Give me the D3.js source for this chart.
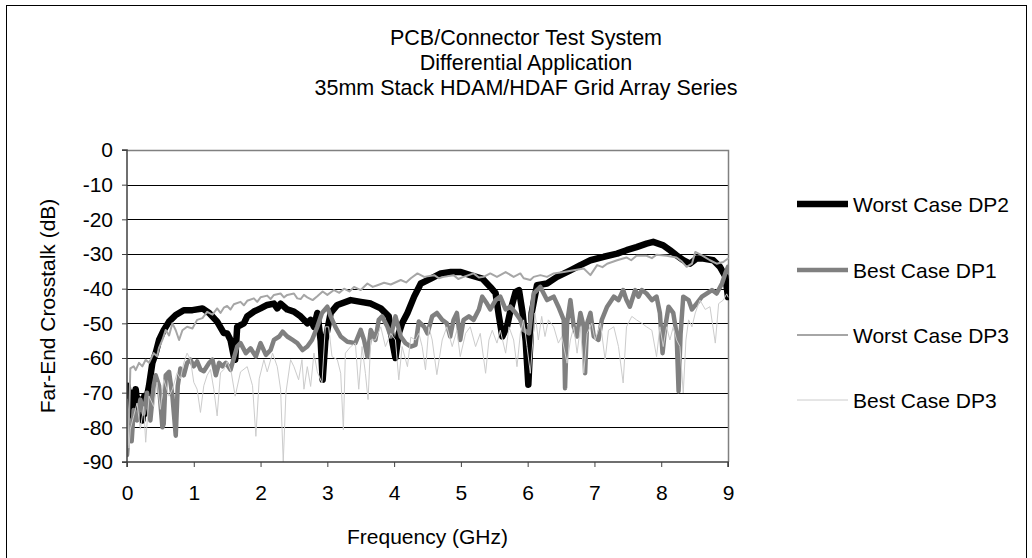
<!DOCTYPE html>
<html><head><meta charset="utf-8">
<script src="https://cdn.jsdelivr.net/npm/d3@7"></script>
<style>
html,body{margin:0;padding:0;background:#fff;}
svg{display:block;font-family:"Liberation Sans",Arial,sans-serif;}
</style></head>
<body>
<svg id="chart" width="1032" height="558"></svg>
<script>
const titleLines = ["PCB/Connector Test System","Differential Application","35mm Stack HDAM/HDAF Grid Array Series"];
const xTicks = [0,1,2,3,4,5,6,7,8,9];
const yTicks = [0,-10,-20,-30,-40,-50,-60,-70,-80,-90];
const seriesNames = ["Worst Case DP2","Best Case DP1","Worst Case DP3","Best Case DP3"];

const worstDP2 = [[0,-82],[0.01,-68],[0.05,-75],[0.08,-70],[0.1,-77],[0.13,-69],[0.16,-74],[0.2,-72],[0.23,-78],[0.26,-71],[0.28,-76],[0.31,-70],[0.33,-68],[0.38,-61.4],[0.43,-58.6],[0.48,-54.8],[0.55,-52],[0.63,-49.5],[0.73,-47.6],[0.85,-46.2],[0.98,-46.2],[1.13,-45.7],[1.23,-47],[1.35,-49.5],[1.45,-52.8],[1.5,-52.9],[1.55,-54.8],[1.6,-59.6],[1.62,-60.5],[1.65,-51],[1.7,-50.5],[1.75,-50],[1.8,-48],[1.9,-46.6],[2.0,-45.7],[2.1,-44.7],[2.2,-44.3],[2.25,-45.7],[2.3,-44.3],[2.4,-46],[2.5,-46.6],[2.6,-48],[2.7,-50],[2.75,-49],[2.8,-51],[2.85,-47],[2.9,-55],[2.93,-66.3],[2.97,-55],[3.05,-47],[3.15,-44.7],[3.35,-43.3],[3.5,-43.8],[3.65,-44.3],[3.8,-45.7],[3.92,-48],[3.97,-55],[4.02,-60],[4.07,-52.9],[4.12,-50],[4.2,-47],[4.3,-42.3],[4.4,-38.5],[4.55,-37.1],[4.7,-35.6],[4.85,-35.2],[5.0,-35.2],[5.14,-36.1],[5.32,-37.1],[5.44,-39.5],[5.52,-41.3],[5.57,-48],[5.62,-53.8],[5.69,-51],[5.74,-46.5],[5.82,-40.9],[5.87,-40.4],[5.92,-46.5],[5.97,-55],[6.01,-67.7],[6.06,-47],[6.14,-39],[6.29,-38.5],[6.44,-36.6],[6.64,-34.7],[6.79,-33.2],[6.94,-31.8],[7.14,-30.8],[7.34,-29.9],[7.48,-28.9],[7.63,-28],[7.78,-27],[7.88,-26.5],[8.03,-27.5],[8.13,-28.9],[8.23,-30.4],[8.33,-31.8],[8.43,-32.8],[8.53,-31.3],[8.63,-31.3],[8.78,-31.8],[8.88,-33.7],[8.96,-36.5],[9.0,-42.4]];

const bestDP1 = [[0,-88],[0.03,-80],[0.07,-84],[0.1,-75],[0.15,-78],[0.2,-72],[0.25,-76],[0.3,-70],[0.35,-78],[0.4,-68],[0.43,-65],[0.48,-68],[0.53,-80],[0.55,-79],[0.58,-65],[0.63,-64],[0.68,-71],[0.73,-82.4],[0.76,-68],[0.8,-63],[0.85,-65],[0.9,-61.4],[0.95,-60.5],[1.0,-62.4],[1.05,-61],[1.1,-63.3],[1.15,-63.8],[1.23,-61.4],[1.28,-60.5],[1.33,-65],[1.38,-61.4],[1.43,-62.4],[1.48,-61.4],[1.55,-63.4],[1.65,-56.7],[1.7,-55.7],[1.78,-58.6],[1.85,-57.2],[1.93,-59.6],[2.0,-55.7],[2.08,-59.1],[2.15,-57.7],[2.2,-54.8],[2.28,-53.8],[2.33,-52.4],[2.4,-53.8],[2.48,-54.8],[2.55,-55.7],[2.63,-57.7],[2.7,-56.7],[2.77,-54.8],[2.85,-51],[2.92,-47],[3.0,-45.2],[3.05,-48],[3.12,-51],[3.2,-53.8],[3.3,-55.3],[3.42,-55.7],[3.5,-51.9],[3.55,-54.8],[3.6,-59.6],[3.65,-51.9],[3.72,-54.8],[3.77,-49],[3.82,-48],[3.9,-51],[3.95,-53.8],[4.02,-48],[4.1,-53.8],[4.17,-55.7],[4.25,-56.7],[4.32,-56.2],[4.37,-49.5],[4.45,-51],[4.5,-52.9],[4.57,-48],[4.64,-47],[4.72,-49],[4.79,-50],[4.84,-53.8],[4.89,-49],[4.94,-47],[4.99,-54.8],[5.04,-49],[5.12,-48],[5.19,-49],[5.27,-46],[5.32,-42.3],[5.39,-44.3],[5.44,-46],[5.52,-43.3],[5.59,-42.3],[5.67,-46],[5.74,-45.2],[5.82,-47],[5.89,-49],[5.94,-51.9],[6.02,-52.9],[6.09,-41.4],[6.19,-39.5],[6.29,-43.3],[6.39,-42.3],[6.46,-45.2],[6.54,-49],[6.56,-68.7],[6.59,-50],[6.64,-43.3],[6.69,-51],[6.74,-53.8],[6.79,-47],[6.84,-51],[6.86,-64.4],[6.89,-50],[6.94,-47],[6.99,-53.8],[7.06,-54.8],[7.11,-49],[7.19,-45.2],[7.29,-42.3],[7.36,-43.3],[7.43,-40.4],[7.48,-43.3],[7.53,-45.2],[7.61,-40.4],[7.66,-42.3],[7.71,-40.4],[7.78,-41.4],[7.86,-43.3],[7.93,-42.3],[7.98,-47],[8.02,-58.6],[8.06,-51],[8.11,-45.2],[8.18,-47],[8.23,-53],[8.26,-69.6],[8.29,-53],[8.33,-42.3],[8.41,-43.3],[8.46,-46],[8.53,-44.3],[8.61,-42.3],[8.68,-41.4],[8.76,-40.4],[8.83,-41.4],[8.91,-38.5],[8.96,-35.6],[9.0,-33.7]];

const worstDP3 = [[0,-72],[0.02,-85],[0.05,-63],[0.1,-62.4],[0.13,-63.5],[0.18,-61.4],[0.23,-62.4],[0.28,-60.5],[0.33,-61.4],[0.4,-58.6],[0.45,-59.5],[0.48,-57],[0.53,-54.8],[0.58,-51.9],[0.63,-53.5],[0.68,-50],[0.73,-52],[0.78,-54.8],[0.83,-52],[0.9,-51],[0.98,-51.5],[1.05,-49],[1.13,-48.5],[1.2,-46.7],[1.28,-47.5],[1.35,-45.7],[1.4,-47],[1.45,-45.5],[1.5,-45],[1.55,-46],[1.6,-44.5],[1.7,-43.8],[1.75,-44.8],[1.8,-43.5],[1.9,-42.8],[1.95,-43.8],[2.0,-42.5],[2.1,-42],[2.15,-43],[2.2,-41.8],[2.3,-41.4],[2.35,-42.5],[2.4,-41.8],[2.5,-41.4],[2.55,-42.8],[2.6,-43],[2.65,-41.8],[2.7,-42.5],[2.78,-43.3],[2.85,-42.2],[2.93,-40.8],[3.0,-41.8],[3.1,-40.4],[3.18,-41.2],[3.25,-40],[3.33,-40.8],[3.4,-39.5],[3.5,-40.4],[3.6,-38.5],[3.68,-39.5],[3.75,-39],[3.85,-38.3],[3.95,-38.8],[4.1,-37.5],[4.18,-38.2],[4.25,-37],[4.35,-35.6],[4.45,-36.6],[4.6,-36.1],[4.67,-37],[4.74,-36.6],[4.89,-36.1],[4.96,-37.2],[5.04,-36.6],[5.19,-35.6],[5.27,-36.8],[5.34,-36.6],[5.44,-35.6],[5.54,-36.6],[5.67,-35.2],[5.79,-36.6],[5.89,-35.6],[5.94,-37],[6.04,-37.5],[6.09,-36.6],[6.19,-36.1],[6.29,-36.6],[6.39,-35.6],[6.54,-35.2],[6.69,-34.7],[6.84,-34.2],[6.94,-36.1],[7.04,-33.2],[7.12,-33.8],[7.19,-32.8],[7.34,-31.8],[7.48,-31],[7.55,-31.8],[7.63,-30.5],[7.78,-30.5],[7.86,-31.2],[7.93,-30.2],[8.08,-30.5],[8.23,-31],[8.3,-32],[8.38,-33.7],[8.46,-32.8],[8.51,-29.4],[8.61,-30.4],[8.73,-31.8],[8.83,-32.8],[8.93,-32.3],[9.0,-31.3]];

const bestDP3 = [[0,-72],[0.03,-86],[0.05,-80.5],[0.1,-76.7],[0.15,-73],[0.2,-80.5],[0.25,-74],[0.28,-84.3],[0.33,-71],[0.4,-74],[0.45,-67],[0.5,-74.8],[0.55,-66.2],[0.63,-71],[0.68,-69],[0.75,-64.3],[0.8,-66],[0.85,-61.4],[0.9,-58.6],[0.95,-60.5],[1.0,-67],[1.05,-69],[1.1,-75.7],[1.15,-68],[1.2,-65],[1.25,-63.3],[1.3,-69],[1.35,-76.7],[1.4,-64.3],[1.45,-63.3],[1.5,-61],[1.56,-64],[1.62,-71],[1.7,-64],[1.8,-62.5],[1.88,-68],[1.93,-82.6],[1.98,-66],[2.05,-60.5],[2.1,-64],[2.18,-58.6],[2.25,-62.5],[2.3,-69],[2.34,-90],[2.38,-70],[2.45,-60.5],[2.5,-62.5],[2.57,-66.3],[2.62,-60.5],[2.65,-69],[2.7,-62.5],[2.75,-68.2],[2.8,-58.6],[2.85,-64],[2.92,-67.2],[2.97,-51],[3.02,-51],[3.07,-59.6],[3.15,-60.5],[3.2,-64.4],[3.24,-80.7],[3.27,-58.6],[3.35,-56.7],[3.42,-55.7],[3.47,-69],[3.52,-56.7],[3.57,-64.4],[3.61,-72],[3.65,-54.8],[3.72,-54.8],[3.8,-51],[3.87,-56.7],[3.95,-52.9],[4.02,-54.8],[4.07,-66.3],[4.12,-56.7],[4.2,-62.5],[4.25,-54],[4.32,-54.8],[4.37,-52.9],[4.42,-56.7],[4.47,-63.4],[4.52,-51],[4.57,-54.8],[4.64,-64.8],[4.72,-54.8],[4.79,-51],[4.87,-56.7],[4.94,-52],[4.99,-59.6],[5.07,-52.9],[5.14,-51],[5.22,-56.7],[5.29,-52.9],[5.37,-64.4],[5.42,-54.8],[5.47,-52],[5.54,-55.7],[5.59,-52],[5.67,-58.6],[5.72,-51],[5.79,-54.8],[5.84,-62.5],[5.89,-53],[5.94,-49],[5.99,-56.7],[6.04,-64.4],[6.11,-47],[6.16,-54.8],[6.21,-48],[6.26,-53.8],[6.31,-49],[6.39,-51],[6.46,-55.7],[6.51,-53.8],[6.59,-61.5],[6.64,-54.8],[6.69,-51],[6.74,-58.6],[6.79,-51],[6.84,-64.4],[6.89,-52.9],[6.96,-50],[7.01,-54.8],[7.09,-50],[7.16,-60.5],[7.21,-52],[7.29,-51],[7.36,-56.7],[7.43,-67.2],[7.48,-51],[7.56,-48],[7.63,-49],[7.71,-50],[7.78,-51],[7.86,-52],[7.93,-59.6],[7.98,-51],[8.03,-56.7],[8.08,-51],[8.13,-54.8],[8.18,-51],[8.23,-54.8],[8.28,-56.7],[8.33,-70.1],[8.37,-54.8],[8.41,-49],[8.46,-51],[8.51,-47],[8.58,-43.3],[8.66,-46],[8.73,-45.2],[8.81,-55.7],[8.86,-44.3],[8.93,-43.3],[8.98,-41.5],[9.0,-42.4]];

const seriesData = [worstDP2, bestDP1, worstDP3, bestDP3];
const seriesColors = ["#000000","#808080","#a6a6a6","#cccccc"];
const seriesWidths = [6.5,4.5,2,1];

const svg = d3.select("#chart");
const W = 1032, H = 558;
const L = 127, R = 728, T = 150, B = 462;
const FS = 21;

svg.append("rect").attr("x",6.5).attr("y",5.5).attr("width",1020).attr("height",H)
  .attr("fill","#fff").attr("stroke","#000").attr("stroke-width",1);

const x = d3.scaleLinear().domain([0,9]).range([L,R]);
const y = d3.scaleLinear().domain([-90,0]).range([B,T]);

// title
svg.append("g").selectAll("text").data(titleLines).join("text")
  .attr("x",526).attr("y",(d,i)=>45+i*25).attr("text-anchor","middle")
  .attr("font-size",21.5).attr("fill","#000").text(d=>d);

// gridlines
svg.append("g").selectAll("line").data(yTicks.filter(v=>v>-90 && v<0)).join("line")
  .attr("x1",L).attr("x2",R).attr("y1",d=>Math.round(y(d))+0.5).attr("y2",d=>Math.round(y(d))+0.5)
  .attr("stroke","#000").attr("stroke-width",1);

// plot frame top/right
svg.append("path").attr("d",`M${L},${T+0.5}H${R+0.5}V${B}`).attr("fill","none").attr("stroke","#808080").attr("stroke-width",1.5);

// clip
svg.append("clipPath").attr("id","clip").append("rect").attr("x",L).attr("y",T).attr("width",R-L+1).attr("height",B-T);

const line = d3.line().x(d=>x(d[0])).y(d=>y(d[1]));
const g = svg.append("g").attr("clip-path","url(#clip)");
seriesData.forEach((s,i)=>{
  g.append("path").datum(s).attr("d",line).attr("fill","none")
    .attr("stroke",seriesColors[i]).attr("stroke-width",seriesWidths[i])
    .attr("stroke-linejoin","round").attr("stroke-linecap","round");
});

// axes
const yAxis = d3.axisLeft(y).tickValues(yTicks).tickSize(5).tickPadding(9).tickFormat(d=>String(d));
const ya = svg.append("g").attr("transform",`translate(${L},0)`).call(yAxis);
const xAxis = d3.axisBottom(x).tickValues(xTicks).tickSize(5).tickPadding(18).tickFormat(d=>String(d));
const xa = svg.append("g").attr("transform",`translate(0,${B})`).call(xAxis);
[ya,xa].forEach(a=>{
  a.select(".domain").attr("stroke","#404040").attr("stroke-width",1.5);
  a.selectAll(".tick line").attr("stroke","#404040");
  a.selectAll(".tick text").attr("font-size",FS).attr("fill","#000").attr("font-family","Liberation Sans, Arial, sans-serif");
});
ya.select(".domain").attr("d",`M-5,${T}H0V${B}H-5`);
xa.select(".domain").attr("d",`M${L},5V0H${R}V5`);

// axis titles
svg.append("text").attr("transform",`translate(48,${(T+B)/2}) rotate(-90)`).attr("text-anchor","middle")
  .attr("dy","0.35em").attr("font-size",FS).attr("fill","#000").text("Far-End Crosstalk (dB)");
svg.append("text").attr("x",(L+R)/2).attr("y",544).attr("text-anchor","middle")
  .attr("font-size",FS).attr("fill","#000").text("Frequency (GHz)");

// legend
const legendY = [204,270,335,400];
const lg = svg.append("g").selectAll("g").data(seriesNames).join("g")
  .attr("transform",(d,i)=>`translate(797,${legendY[i]})`);
lg.append("line").attr("x1",0).attr("x2",51).attr("y1",0).attr("y2",0)
  .attr("stroke",(d,i)=>seriesColors[i]).attr("stroke-width",(d,i)=>seriesWidths[i]);
lg.append("text").attr("x",56).attr("y",7.5).attr("font-size",FS).attr("fill","#000").text(d=>d);
</script>
</body></html>
